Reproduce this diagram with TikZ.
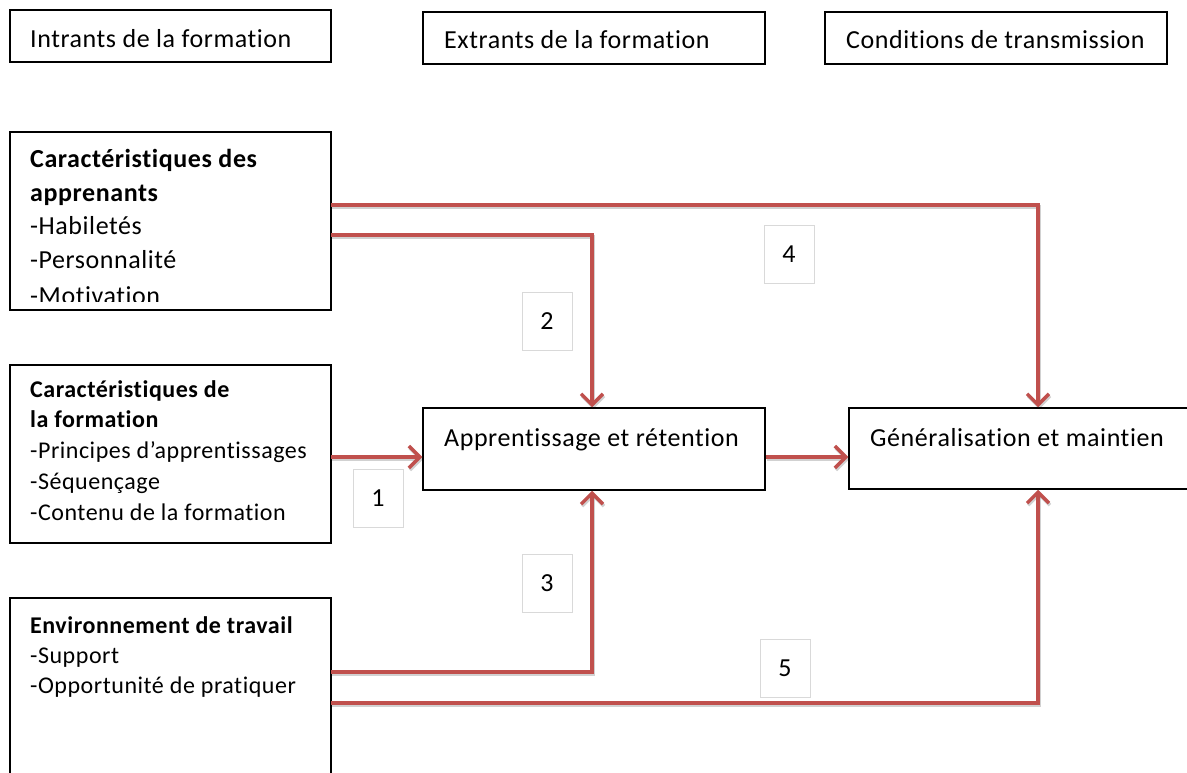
\documentclass[tikz,border=0pt]{standalone}
\usepackage{fontspec}
\setmainfont{Carlito}[Ligatures=NoCommon, LetterSpace=2.2]
\usetikzlibrary{arrows.meta}
\definecolor{linkred}{HTML}{C0504D}
\definecolor{tagline}{HTML}{D9D9D9}
\tikzset{
  frame/.style={draw=black, line width=1.5pt},
  txt/.style={anchor=base west, inner sep=0pt, font=\fontsize{26}{30}\selectfont},
  btxt/.style={txt, font=\fontsize{26}{30}\selectfont\bfseries},
  stxt/.style={txt, font=\fontsize{24}{28}\selectfont},
  sbtxt/.style={txt, font=\fontsize{24}{28}\selectfont\bfseries},
  link/.style={draw=linkred, line width=3.5pt,
    preaction={draw=black, opacity=0.18, line width=3.5pt,
      transform canvas={shift={(1,2)}}}},
  linkarrow/.style={link, -{Straight Barb[length=11pt,width=22pt]}},
  tag/.style={draw=tagline, line width=0.6pt, fill=white, minimum width=50pt,
    minimum height=58pt, inner sep=0pt, font=\fontsize{26}{30}\selectfont}
}
\begin{document}
\begin{tikzpicture}[x=1pt,y=-1pt]
\useasboundingbox (0,0) rectangle (1187,773);
\fill[white] (0,0) rectangle (1187,773);

% header boxes
\draw[frame] (10,10) rectangle (331,62);
\node[txt] (hin) at (30,48) {Intrants de la formation};
\draw[frame] (423,12) rectangle (765,64);
\node[txt] (hout) at (444,49) {Extrants de la formation};
\draw[frame] (825,12) rectangle (1167,64);
\node[txt] (hcond) at (846,49) {Conditions de transmission};

% input boxes
\draw[frame] (10,132) rectangle (331,310);
\begin{scope}
  \clip (11,133) rectangle (330,301.5);
  \node[btxt] (a1) at (30,168) {Caractéristiques des};
  \node[btxt] (a2) at (30,201) {apprenants};
  \node[txt] (a3) at (30,234) {-Habiletés};
  \node[txt] (a4) at (30,268) {-Personnalité};
  \node[txt] (a5) at (30,304) {-Motivation};
\end{scope}

\draw[frame] (10,365) rectangle (331,543);
\node[sbtxt] (b1) at (30,397) {Caractéristiques de};
\node[sbtxt] (b2) at (30,427) {la formation};
\node[stxt] (b3) at (30,458) {-Principes d’apprentissages};
\node[stxt] (b4) at (30,489) {-Séquençage};
\node[stxt] (b5) at (30,520) {-Contenu de la formation};

\draw[frame] (10,598) rectangle (331,800);
\node[sbtxt] (c1) at (30,633) {Environnement de travail};
\node[stxt] (c2) at (30,663) {-Support};
\node[stxt] (c3) at (30,693) {-Opportunité de pratiquer};

% output boxes
\node[draw=black, line width=1.5pt, minimum width=342pt, minimum height=82pt,
  inner sep=0pt] (D) at (594,449) {};
\node[txt] (dtext) at (444,446) {Apprentissage et rétention};
\node[draw=black, line width=1.5pt, minimum width=350pt, minimum height=81pt,
  inner sep=0pt] (E) at (1024,448.5) {};
\node[txt] (etext) at (870,446) {Généralisation et maintien};

% connector start points on the right side of the input boxes
\coordinate (a4s) at (331,205);
\coordinate (a2s) at (331,235);
\coordinate (b1s) at (331,457);
\coordinate (c3s) at (331,672);
\coordinate (c5s) at (331,703);

\draw[linkarrow] (a4s) -| (E.north -| 1038,0);
\draw[linkarrow] (a2s) -| (D.north -| 592,0);
\draw[linkarrow] (b1s) -- (D.west |- b1s);
\draw[linkarrow] (D.east |- 0,457) -- (E.west |- 0,457);
\draw[linkarrow] (c3s) -| (D.south -| 592,0);
\draw[linkarrow] (c5s) -| (E.south -| 1038,0);

% path numbers
\node[tag] (t1) at (378,498) {1};
\node[tag] (t2) at (547,321) {2};
\node[tag] (t3) at (547,583) {3};
\node[tag] (t4) at (789,254) {4};
\node[tag] (t5) at (785,668) {5};
\end{tikzpicture}
\end{document}
